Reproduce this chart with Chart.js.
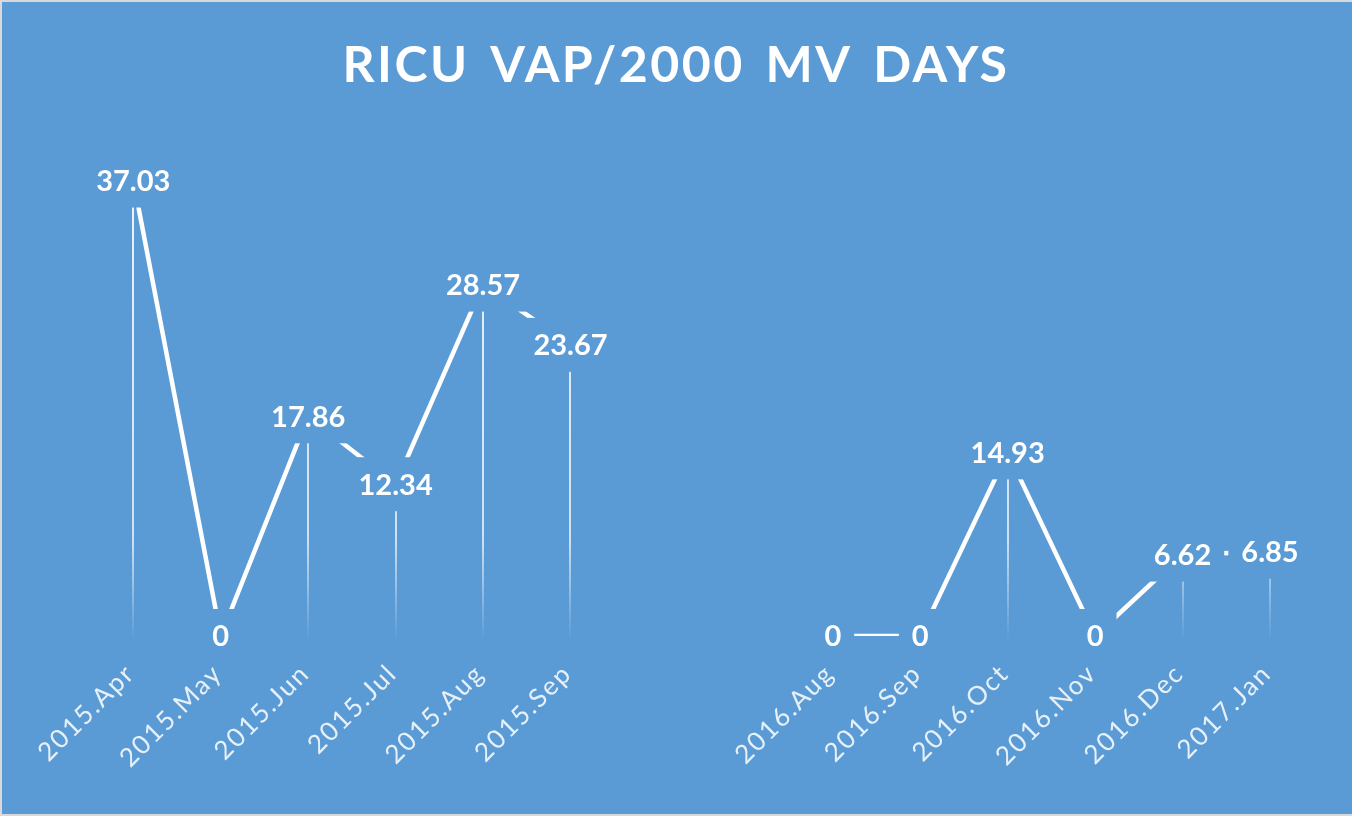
<!DOCTYPE html>
<html><head><meta charset="utf-8">
<script src="https://cdn.jsdelivr.net/npm/chart.js@4/dist/chart.umd.min.js"></script>
<style>
html,body{margin:0;padding:0;background:#5B9BD5;overflow:hidden;}
#wrap{position:relative;width:1352px;height:816px;background:#5B9BD5;box-sizing:border-box;border-top:2px solid #D9D9D9;border-left:2px solid #D9D9D9;border-bottom:2px solid #D9D9D9;}
canvas{position:absolute;left:-2px;top:-2px;}
</style></head><body>
<div id="wrap"><canvas id="c" width="1352" height="816"></canvas></div>
<script>
const categories = ['2015.Apr','2015.May','2015.Jun','2015.Jul','2015.Aug','2015.Sep','','','2016.Aug','2016.Sep','2016.Oct','2016.Nov','2016.Dec','2017.Jan'];
const vapRate = [37.03, 0, 17.86, 12.34, 28.57, 23.67, null, null, 0, 0, 14.93, 0, 6.62, 6.85];
const titleText = 'RICU VAP/2000 MV DAYS';

const BG = '#5B9BD5';
const FONT = 'Lato';
const TITLE_LS = '2.5px', TITLE_WS = '6px';
const TICK_LS = '2px';

const fxPlugin = {
  id: 'fx',
  beforeDraw(chart) {
    chart.ctx.letterSpacing = TITLE_LS;
    chart.ctx.wordSpacing = TITLE_WS;
  },
  beforeDatasetsDraw(chart) {
    const ctx = chart.ctx;
    ctx.letterSpacing = '0px'; ctx.wordSpacing = '0px';
    const meta = chart.getDatasetMeta(0);
    const bottom = chart.chartArea.bottom + 4;
    ctx.save();
    const g = ctx.createLinearGradient(0, chart.chartArea.top, 0, bottom);
    g.addColorStop(0, 'rgba(255,255,255,0.9)');
    g.addColorStop(0.8, 'rgba(255,255,255,0.7)');
    g.addColorStop(1, 'rgba(255,255,255,0)');
    ctx.strokeStyle = g;
    ctx.lineWidth = 2;
    meta.data.forEach((pt, i) => {
      const v = vapRate[i];
      if (v == null || v === 0) return;
      ctx.beginPath();
      ctx.moveTo(Math.round(pt.x), pt.y);
      ctx.lineTo(Math.round(pt.x), bottom);
      ctx.stroke();
    });
    ctx.restore();
  },
  afterDatasetsDraw(chart) {
    const ctx = chart.ctx;
    const meta = chart.getDatasetMeta(0);
    ctx.save();
    ctx.letterSpacing = '0px';
    ctx.font = 'bold 29px ' + FONT;
    ctx.textAlign = 'center';
    ctx.textBaseline = 'middle';
    meta.data.forEach((pt, i) => {
      const v = vapRate[i];
      if (v == null) return;
      const txt = String(v);
      const w = ctx.measureText(txt).width;
      ctx.fillStyle = BG;
      ctx.fillRect(pt.x - w / 2 - 13, pt.y - 27, w + 26, 54);
      ctx.fillStyle = '#FFFFFF';
      ctx.fillText(txt, pt.x, pt.y + 1);
    });
    ctx.restore();
    ctx.letterSpacing = TICK_LS;
  },
  afterDraw(chart) {
    chart.ctx.letterSpacing = '0px';
    chart.ctx.wordSpacing = '0px';
  }
};

new Chart(document.getElementById('c'), {
  type: 'line',
  data: {
    labels: categories,
    datasets: [{
      data: vapRate,
      borderColor: '#FFFFFF',
      borderWidth: 4.5,
      borderCapStyle: 'butt',
      pointRadius: 0,
      pointHoverRadius: 0,
      tension: 0,
      spanGaps: false,
      fill: false,
      yAxisID: 'y'
    }]
  },
  options: {
    responsive: false,
    animation: false,
    devicePixelRatio: 1,
    layout: { padding: 0 },
    plugins: {
      legend: { display: false },
      tooltip: { enabled: false },
      title: {
        display: true,
        text: titleText,
        color: '#FFFFFF',
        font: { family: FONT, size: 50, weight: 'bold', lineHeight: 1.2 },
        padding: { top: 36, bottom: 48 }
      }
    },
    scales: {
      x: {
        offset: true,
        grid: { display: false, drawTicks: false },
        border: { display: false },
        ticks: {
          z: 1,
          autoSkip: false,
          maxRotation: 45,
          minRotation: 45,
          padding: 22,
          labelOffset: -3,
          color: 'rgba(255,255,255,0.85)',
          font: { family: FONT, size: 26 }
        },
        afterFit(scale) { scale.height = 180; }
      },
      y: {
        position: 'left',
        min: 0,
        max: 40,
        grid: { display: false, drawTicks: false },
        border: { display: false },
        ticks: { display: false },
        afterFit(scale) { scale.width = 89.6; }
      },
      yR: {
        position: 'right',
        min: 0,
        max: 40,
        grid: { display: false, drawTicks: false },
        border: { display: false },
        ticks: { display: false },
        afterFit(scale) { scale.width = 38.3; }
      }
    }
  },
  plugins: [fxPlugin]
});
</script>
</body></html>
